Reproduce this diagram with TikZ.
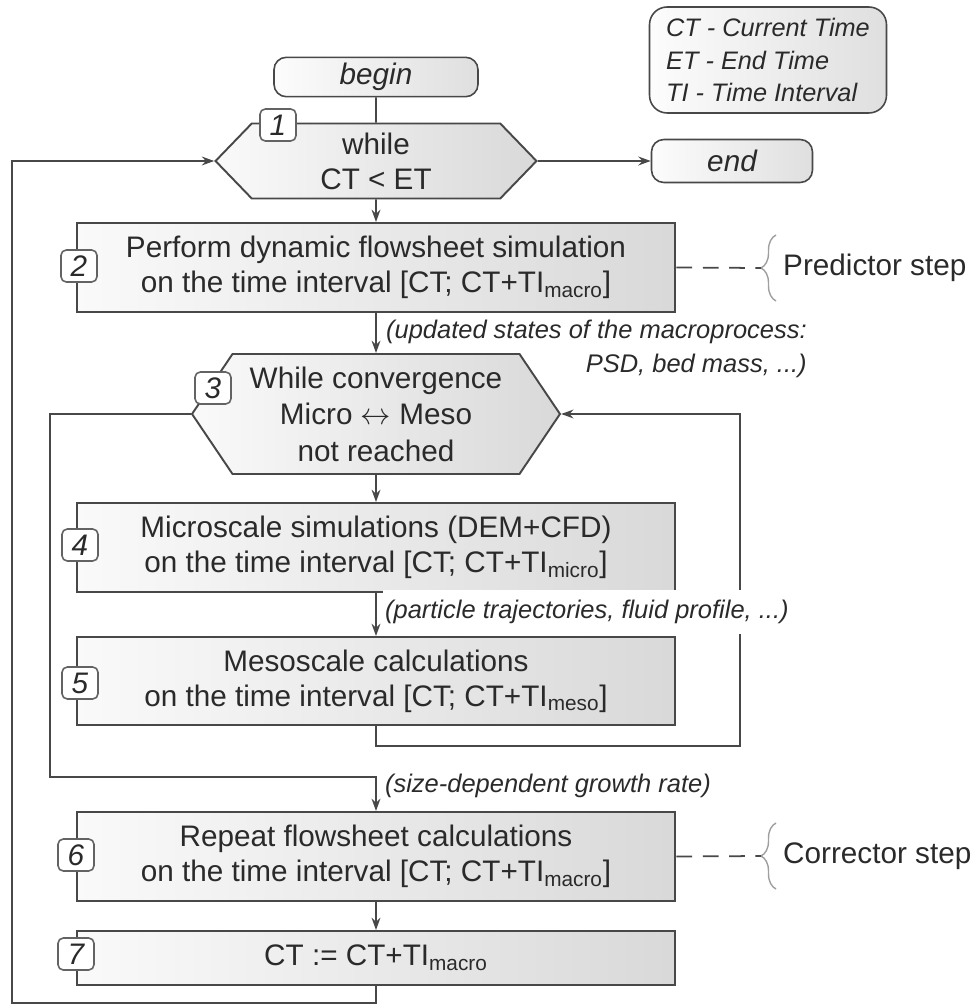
\documentclass[tikz,border=0pt]{standalone}
\usepackage{fontspec}
\setmainfont{Liberation Sans}
\usetikzlibrary{arrows.meta,shapes.symbols,decorations.pathreplacing}

\definecolor{linegray}{HTML}{484848}
\definecolor{textgray}{HTML}{2A2A2A}

\begin{document}
\begin{tikzpicture}[
  x=0.02cm, y=-0.02cm,
  font=\fontsize{16.9}{20}\selectfont,
  text=textgray,
  flowbox/.style={rectangle, draw=linegray, line width=1.1pt, left color=gray!4, right color=gray!30,
    minimum width=11.98cm, align=center, inner sep=2pt},
  loopbox/.style={signal, signal to=west and east, draw=linegray, line width=1.1pt,
    left color=gray!4, right color=gray!30, align=center, inner sep=1pt},
  termbox/.style={rectangle, rounded corners=7pt, draw=linegray, line width=0.9pt,
    left color=gray!2, right color=gray!25, font=\fontsize{16.9}{20}\selectfont\itshape},
  numbox/.style={rectangle, rounded corners=3pt, draw=linegray!85, line width=0.9pt, fill=white,
    minimum width=0.72cm, minimum height=0.64cm, inner sep=0pt, font=\fontsize{16.9}{20}\selectfont\itshape},
  annot/.style={font=\fontsize{14.5}{19.5}\selectfont\itshape, inner sep=1pt},
  link/.style={draw=linegray, line width=1.1pt},
  flow/.style={link, -{Stealth[length=7pt,width=5pt]}},
  stepdash/.style={draw=linegray, line width=1pt, dash pattern=on 9pt off 6pt},
  stepbrace/.style={draw=gray!75, line width=0.8pt, decorate, decoration={brace, amplitude=0.3cm}}
]
\useasboundingbox (0,0) rectangle (975,1006);

% outer time loop
\node[termbox, minimum width=4.08cm, minimum height=0.76cm] (begin) at (376,77) {begin};
\node[loopbox, signal pointer angle=92, minimum width=6.42cm, minimum height=1.5cm] (while) at (376,161) {while\\CT < ET};
\node[termbox, minimum width=3.22cm, minimum height=0.86cm] (end) at (732,161) {end};
\node[termbox, rounded corners=10pt, align=left, minimum width=4.74cm, minimum height=2.12cm,
  font=\fontsize{14.4}{18.3}\selectfont\itshape] (legend) at (768,60) {CT - Current Time\\ET - End Time\\TI - Time Interval};

\node[flowbox, minimum height=1.78cm] (predict) at (376,267.5) {Perform dynamic flowsheet simulation\\on the time interval [CT; CT+TI\textsubscript{macro}]};

% inner micro/meso loop
\node[loopbox, signal pointer angle=112, minimum width=7.36cm, minimum height=2.4cm,
  font=\fontsize{16.9}{20.8}\selectfont] (conv) at (376,414) {While convergence\\Micro $\leftrightarrow$ Meso\\not reached};
\node[flowbox, minimum height=1.78cm] (micro) at (376,547.5) {Microscale simulations (DEM+CFD)\\on the time interval [CT; CT+TI\textsubscript{micro}]};
\node[flowbox, minimum height=1.76cm] (meso) at (376,681) {Mesoscale calculations\\on the time interval [CT; CT+TI\textsubscript{meso}]};

\node[flowbox, minimum height=1.78cm] (correct) at (376,856.5) {Repeat flowsheet calculations\\on the time interval [CT; CT+TI\textsubscript{macro}]};
\node[flowbox, minimum height=1.08cm] (advance) at (376,958) {CT := CT+TI\textsubscript{macro}};

\coordinate (innerR) at (740,746);
\coordinate (innerL) at (50,777);
\coordinate (outer) at (12,1003);

\draw[link] (begin) -- (while);
\draw[flow] (while) -- (end);
\draw[flow] (while) -- (predict);
\draw[flow] (predict) -- (conv);
\draw[flow] (conv) -- (micro);
\draw[flow] (micro) -- (meso);
\draw[flow] (meso.south) |- (innerR) |- (conv.east);
\draw[flow] (conv.west) -| (innerL) -| (correct.north);
\draw[flow] (correct) -- (advance);
\draw[flow] (advance.south) |- (outer) |- (while.west);

\node[annot, anchor=north west, align=right] (macrostate) at (384,318) {(updated states of the macroprocess:\\PSD, bed mass, ...)};
\node[annot, anchor=west, fill=white, inner ysep=6pt] (trajectory) at (383,612) {(particle trajectories, fluid profile, ...)};
\node[annot, anchor=west] (growth) at (383,786) {(size-dependent growth rate)};

\foreach \n/\x/\y in {1/278/125, 2/79/266, 3/213/388, 4/80/545, 5/80/683, 6/76/855, 7/76/954}
  \node[numbox] (num\n) at (\x,\y) {\n};

\foreach \src/\yc/\txt in {predict/268/Predictor, correct/856/Corrector} {
  \coordinate (\txt tip) at (761,\yc);
  \draw[stepbrace] (776,\yc+33) -- (776,\yc-33);
  \draw[stepdash] (\src.east) -- (\txt tip);
  \node[anchor=west] (\txt label) at (777,\yc) {\txt{} step};
}
\end{tikzpicture}
\end{document}
